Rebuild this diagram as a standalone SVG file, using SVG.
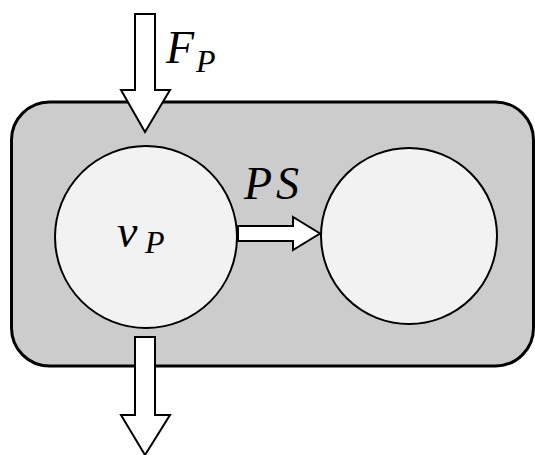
<svg xmlns="http://www.w3.org/2000/svg" width="535" height="455" viewBox="0 0 535 455">
<style>
.box{fill:#cccccc;stroke:#000;stroke-width:3}
.pool{fill:#f2f2f2;stroke:#000;stroke-width:2}
.arrow{fill:#fff;stroke:#000;stroke-width:2;stroke-linejoin:miter}
.lbl{font-family:"Liberation Serif","DejaVu Serif",serif;font-style:italic;fill:#000}
</style>
<g id="compartment">
<rect class="box" x="11.5" y="102" width="522" height="264" rx="38" ry="38"/>
</g>
<g id="poolP">
<circle class="pool" cx="146" cy="237" r="91"/>
<text class="lbl" x="117" y="247" font-size="46">v</text>
<text class="lbl" x="145" y="253" font-size="32">P</text>
</g>
<g id="poolS">
<circle class="pool" cx="409" cy="236" r="88"/>
</g>
<g id="connectors">
<polygon class="arrow" points="135,14 155,14 155,90 170,90 145,132 121,90 135,90"/>
<polygon class="arrow" points="135,337 155,337 155,415 170,415 145,455 121,415 135,415"/>
<polygon class="arrow" points="238,226 293,226 293,217 320,233.5 293,250 293,241 238,241"/>
</g>
<g id="labels">
<text class="lbl" x="166" y="63" font-size="46">F</text>
<text class="lbl" x="196" y="72" font-size="32">P</text>
<text class="lbl" x="244" y="199" font-size="46" letter-spacing="4">PS</text>
</g>
</svg>
